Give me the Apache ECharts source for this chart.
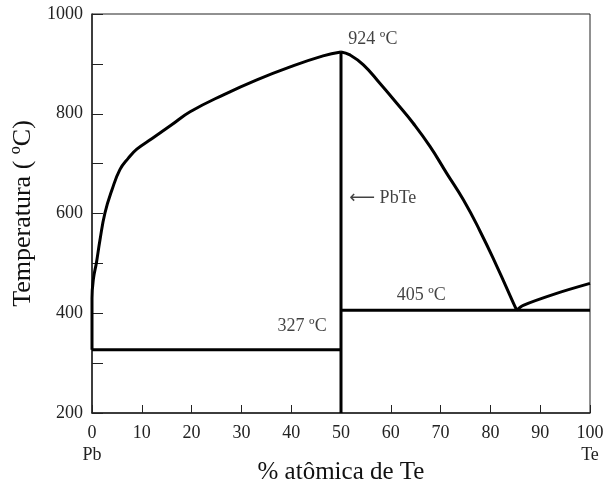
<!DOCTYPE html>
<html>
<head>
<meta charset="utf-8">
<script src="https://cdn.jsdelivr.net/npm/echarts@6/dist/echarts.min.js"></script>
<style>html,body{margin:0;padding:0;background:#fff}#c{width:604px;height:487px}</style>
</head>
<body>
<div id="c"></div>
<script>
// Data (x = % atômica de Te, y = temperatura ºC)
const leftLiquidus = [[0,327],[0,430],[0.3,470],[0.9,502],[1.6,547],[2.6,601],[4.0,647],[5.6,688],[7.3,711],[9,729],[12,750],[16,778],[19.7,804],[26.4,838],[33.1,868],[39.8,894],[46.4,916],[50,924]];
const rightLiquidus = [[50,924],[51.8,918],[54.5,898],[57.8,861],[61.2,821],[64.5,781],[67.9,734],[71.2,681],[74.6,627],[77.9,565],[81.3,494],[84.6,421],[85.3,406]];
const teLiquidus = [[85.3,406],[86.6,416],[93.3,440],[100,460]];
const eutecticPb = [[0,327],[50,327]];
const eutecticTe = [[50,406],[100,406]];
const compoundLine = [[50,200],[50,924]];
const annotTexts = ['924 ºC','{a|⟵} PbTe','405 ºC','327 ºC'];
const annotX = [56.4, 58.4, 66.1, 42.2];
const annotY = [950, 631, 437, 374];
const xEndLabels = {0:'Pb', 100:'Te'};

const font = 'Liberation Serif';
const chart = echarts.init(document.getElementById('c'));
const lineStyle = {color:'#000', width:3};
const mk = (data, smooth) => ({type:'line', data, symbol:'none', smooth: smooth, lineStyle, silent:true, z:3});
chart.setOption({
  animation:false,
  grid:{left:92, right:14, top:14, bottom:74, show:true, borderColor:'#222', borderWidth:1,
        containLabel:false, outerBoundsMode:'none'},
  xAxis:{type:'value', min:0, max:100, interval:10,
    name:'% atômica de Te', nameLocation:'middle', nameGap:47, nameMoveOverlap:false,
    nameTextStyle:{fontFamily:font, fontSize:25, color:'#111'},
    axisLine:{show:true, lineStyle:{color:'#222', width:1.5}},
    axisTick:{show:true, inside:true, length:8, lineStyle:{color:'#222', width:1}},
    splitLine:{show:false},
    axisLabel:{fontFamily:font, fontSize:18, color:'#222', margin:9, lineHeight:22,
      formatter:v => xEndLabels[v] !== undefined ? v + '\n' + xEndLabels[v] : String(v)}},
  yAxis:{type:'value', min:200, max:1000, interval:100,
    name:'Temperatura ( ºC)', nameLocation:'middle', nameGap:56, nameMoveOverlap:false,
    nameTextStyle:{fontFamily:font, fontSize:26, color:'#111'},
    axisLine:{show:true, lineStyle:{color:'#222', width:1.5}},
    axisTick:{show:true, inside:true, length:11, lineStyle:{color:'#222', width:1}},
    splitLine:{show:false},
    axisLabel:{fontFamily:font, fontSize:18, color:'#222', margin:9,
      formatter:v => (v % 200 === 0) ? String(v) : ''}},
  series:[
    mk(leftLiquidus, 0.45),
    mk(rightLiquidus, 0.5),
    mk(teLiquidus, 0.3),
    mk(eutecticPb, false),
    mk(eutecticTe, false),
    mk(compoundLine, false),
    {type:'scatter', symbolSize:0, silent:true, z:5,
      data: annotTexts.map((t,i) => ({value:[annotX[i], annotY[i]], label:{show:true, formatter:t}})),
      label:{show:true, position:'inside', fontFamily:font, fontSize:18, color:'#111',
        rich:{a:{fontFamily:'DejaVu Sans', fontSize:18, color:'#111'}}}}
  ]
});
</script>
</body>
</html>
